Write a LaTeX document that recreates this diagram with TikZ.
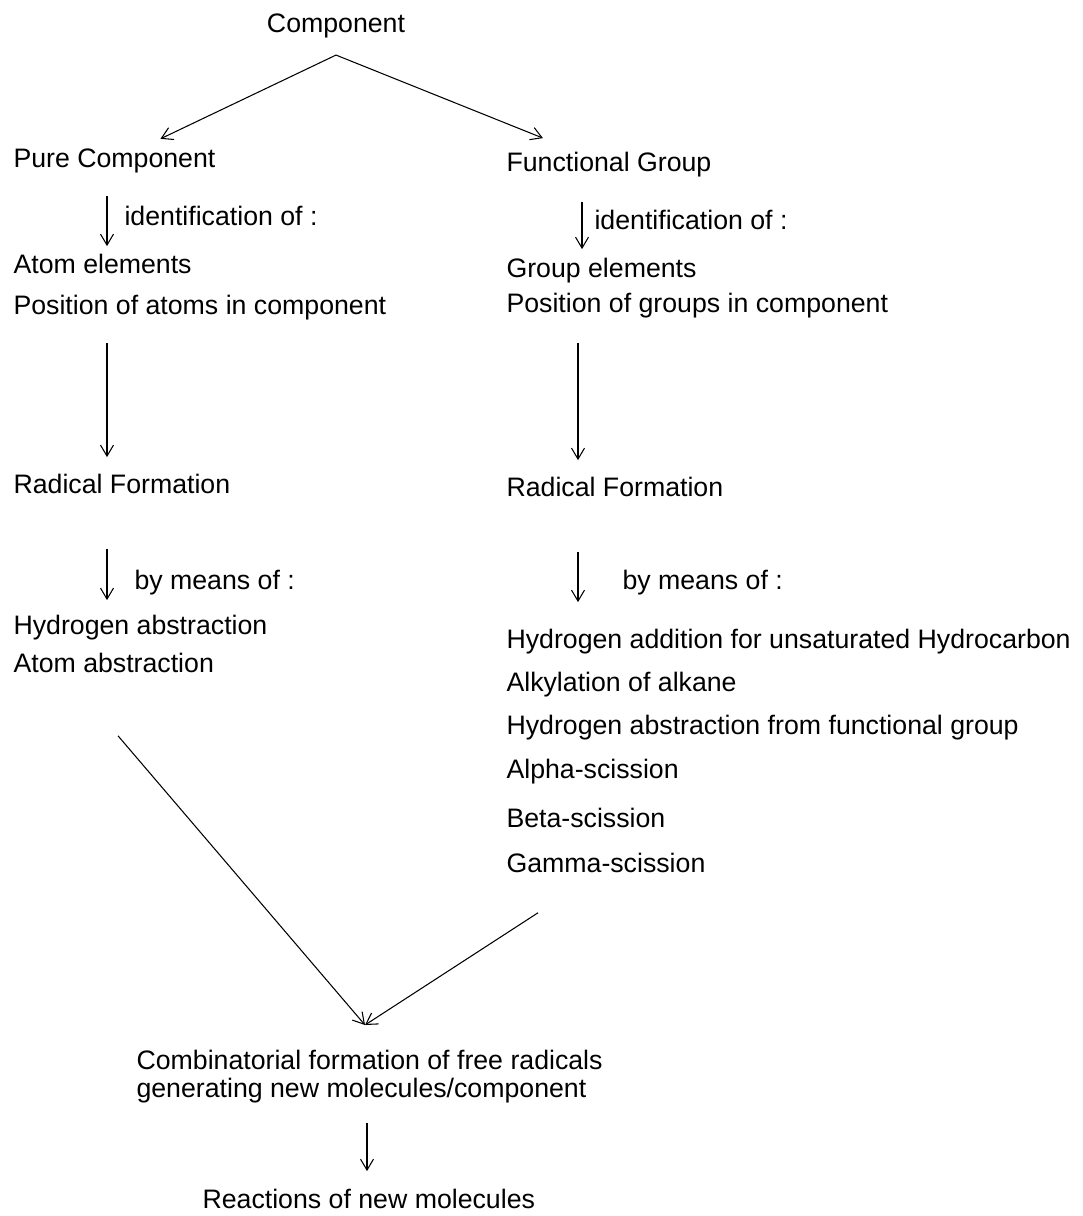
\documentclass[tikz,border=0pt]{standalone}
\usepackage{fontspec}
\setmainfont{Liberation Sans}
\usetikzlibrary{arrows.meta,positioning,calc}

\begin{document}
\begin{tikzpicture}[x=0.02cm,y=-0.02cm,
  t/.style={anchor=base west,inner sep=0pt,font=\fontsize{15.2}{16}\selectfont},
  every path/.style={line width=0.6pt,-{Straight Barb[length=2.2mm,width=2.6mm]}}]
\useasboundingbox (0,0) rectangle (1082,1216);
\node[t,anchor=base](comp) at (336,33) {Component};
\node[t](pure) at (13,168) {Pure Component};
\node[t](func) at (506,172) {Functional Group};
\node[t](idl) at (124,226) {identification of :};
\node[t](idr) at (594,230) {identification of :};
\node[t](atom) at (13,274) {Atom elements};
\node[t](posa) at (13,315) {Position of atoms in component};
\node[t](grp) at (506,277) {Group elements};
\node[t](posg) at (506,313) {Position of groups in component};
\node[t](radl) at (13,493) {Radical Formation};
\node[t](radr) at (506,496) {Radical Formation};
\node[t](meanl) at (134,589) {by means of :};
\node[t](meanr) at (622,589) {by means of :};
\node[t](habs) at (13,634) {Hydrogen abstraction};
\node[t](aabs) at (13,672) {Atom abstraction};
% right hand list
\node[t](hadd) at (506,648) {Hydrogen addition for unsaturated Hydrocarbon};
\node[t](alk) at (506,691) {Alkylation of alkane};
\node[t](hfg) at (506,734) {Hydrogen abstraction from functional group};
\node[t](alpha) at (506,778) {Alpha-scission};
\node[t](beta) at (506,827) {Beta-scission};
\node[t](gamma) at (506,872) {Gamma-scission};
\node[t,anchor=north west,align=left,font=\fontsize{15.2}{15.9}\selectfont](comb) at (136,1050)
  {Combinatorial formation of free radicals\\generating new molecules/component};
\node[t](react) at (202,1208) {Reactions of new molecules};

\draw ($(comp.south)+(0,16)$) -- ($(pure.north)+(46,-10)$);
\draw ($(comp.south)+(0,16)$) -- ($(func.north)+(-66,-14)$);
\draw ($(pure.south west)+(94,22)$) -- ($(atom.north west)+(94,-8)$);
\draw ($(func.south west)+(76,24)$) -- ($(grp.north west)+(76,-8)$);
\draw ($(posa.south west)+(94,22)$) -- ($(radl.north west)+(94,-16)$);
\draw ($(posg.south west)+(72,24)$) -- ($(radr.north west)+(72,-16)$);
\draw ($(radl.south west)+(94,55)$) -- ($(habs.north west)+(94,-14)$);
\draw ($(radr.south west)+(72,55)$) -- ($(hadd.north west)+(72,-26)$);
\draw ($(aabs.south west)+(105,63)$) -- ($(comb.north west)+(229,-25)$);
\draw ($(gamma.south west)+(32,40)$) -- ($(comb.north west)+(229,-25)$);
\draw ($(comb.south west)+(231,19)$) -- ($(react.north west)+(165,-17)$);
\end{tikzpicture}
\end{document}
